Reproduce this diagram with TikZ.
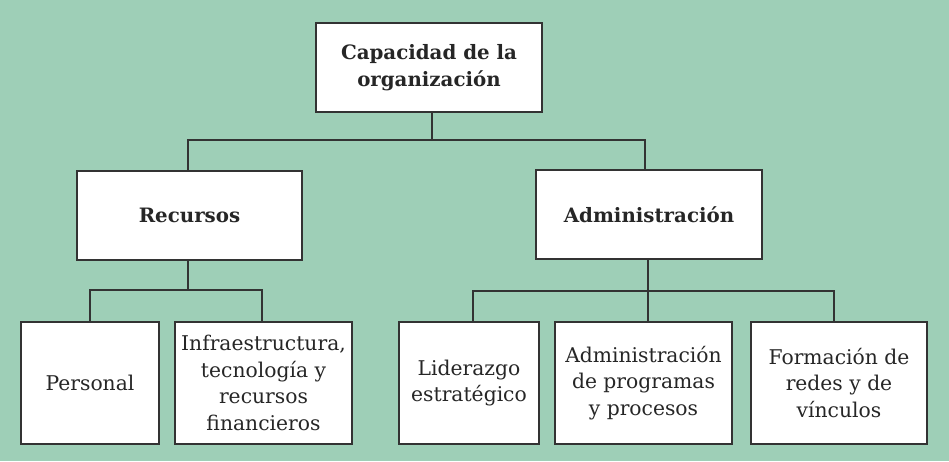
\documentclass[tikz,border=0pt]{standalone}
\usepackage{fontspec}
\setmainfont{DejaVu Serif}
\definecolor{bggreen}{HTML}{9ECFB7}
\definecolor{linegray}{HTML}{333333}
\begin{document}
\begin{tikzpicture}[x=1pt,y=-1pt,
  box/.style={draw=linegray,line width=1.4pt,fill=white,align=center,inner sep=2pt,
    font=\fontsize{20.3}{26.5}\selectfont,text=black!85},
  head/.style={box,font=\fontsize{19.8}{27}\bfseries\selectfont,minimum width=226,minimum height=89},
  leaf/.style={box,minimum height=122},
  conn/.style={draw=linegray,line width=1.4pt}]
\fill[bggreen] (0,0) rectangle (949,461);
\useasboundingbox (0,0) rectangle (949,461);
\node[head] (top) at (429,67.5) {Capacidad de la\\organización};
\node[head,minimum width=225] (rec) at (189.5,215.5) {Recursos};
\node[head] (adm) at (649,214.5) {Administración};
\node[leaf,minimum width=138] (per) at (90,383) {Personal};
\node[leaf,minimum width=177] (inf) at (263.5,383) {Infraestructura,\\tecnología y\\recursos\\financieros};
\node[leaf,minimum width=140] (lid) at (469,383) {Liderazgo\\estratégico};
\node[leaf,minimum width=177] (apg) at (643.5,383) {Administración\\de programas\\y procesos};
\node[leaf,minimum width=176] (frm) at (839,383) {Formación de\\redes y de\\vínculos};
\coordinate (j1) at (432,140);
\coordinate (j2) at (188,290);
\coordinate (j3) at (648,291);
\draw[conn] (top.south -| j1) -- (j1);
\draw[conn] ([xshift=-1.5]rec.north) |- (j1) -| ([xshift=-4]adm.north);
\draw[conn] ([xshift=-1.5]rec.south) -- (j2);
\draw[conn] (per.north) |- (j2) -| ([xshift=-1.5]inf.north);
\draw[conn] ([xshift=-1]adm.south) -- (j3);
\draw[conn] ([xshift=4]lid.north) |- (j3) -| ([xshift=-5]frm.north);
\draw[conn] (j3) -- ([xshift=4.5]apg.north);
\end{tikzpicture}
\end{document}
